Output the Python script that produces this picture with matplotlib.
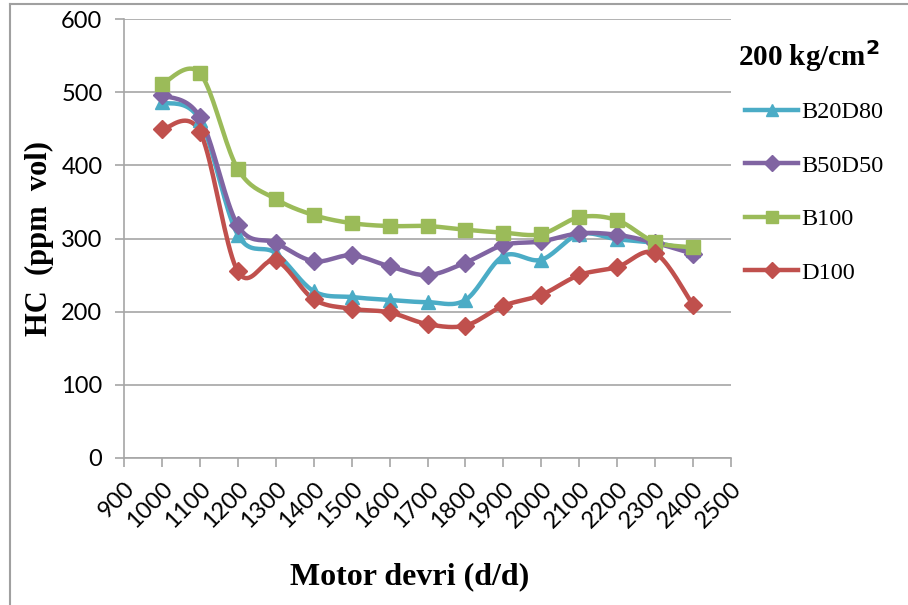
import matplotlib.pyplot as plt
from matplotlib.lines import Line2D
import numpy as np

rpm = [1000, 1100, 1200, 1300, 1400, 1500, 1600, 1700, 1800, 1900, 2000, 2100, 2200, 2300, 2400]

b20d80 = [486, 462, 305, 280, 228, 220, 216, 213, 216, 276, 271, 306, 299, 294, 284]
b50d50 = [496, 466, 318, 294, 269, 277, 262, 250, 267, 291, 296, 307, 305, 294, 279]
b100 = [511, 526, 395, 354, 332, 321, 317, 317, 312, 308, 306, 329, 325, 295, 288]
d100 = [449, 446, 255, 270, 217, 204, 199, 183, 181, 208, 223, 250, 261, 280, 209]

names = ['B20D80', 'B50D50', 'B100', 'D100']
colors = ['#4BACC6', '#8064A2', '#9BBB59', '#C0504D']
markers = ['^', 'D', 's', 'D']
msizes = [10, 9, 10, 9]


def smooth(x, y, n=20):
    # catmull-rom curve through the points, like excel's smoothed lines
    x = np.asarray(x, float)
    y = np.asarray(y, float)
    px = np.r_[x[0], x, x[-1]]
    py = np.r_[y[0], y, y[-1]]
    xs, ys = [], []
    t = np.linspace(0, 1, n, endpoint=False)
    for i in range(1, len(px) - 2):
        for p, out in ((px, xs), (py, ys)):
            p0, p1, p2, p3 = p[i - 1], p[i], p[i + 1], p[i + 2]
            out.extend(0.5 * (2 * p1 + (-p0 + p2) * t
                              + (2 * p0 - 5 * p1 + 4 * p2 - p3) * t ** 2
                              + (-p0 + 3 * p1 - 3 * p2 + p3) * t ** 3))
    xs.append(x[-1])
    ys.append(y[-1])
    return xs, ys


fig = plt.figure(figsize=(9.08, 6.05), dpi=100)
ax = fig.add_axes([124 / 908, 147 / 605, 607 / 908, 439 / 605])

grid_c = '#A6A6A6'
for i, series in enumerate([b20d80, b50d50, b100, d100]):
    sx, sy = smooth(rpm, series)
    ax.plot(sx, sy, color=colors[i], lw=3.2, solid_capstyle='round', zorder=3)
    ax.plot(rpm, series, ls='none', marker=markers[i], ms=msizes[i],
            color=colors[i], zorder=4)

ax.set_xlim(900, 2500)
ax.set_ylim(0, 600)
ax.set_xticks(range(900, 2501, 100))
ax.set_yticks(range(0, 601, 100))
ax.grid(axis='y', color=grid_c, lw=1.2)
ax.set_axisbelow(True)
for s in ['top', 'right']:
    ax.spines[s].set_visible(False)
for s in ['left', 'bottom']:
    ax.spines[s].set_color(grid_c)
    ax.spines[s].set_linewidth(1.2)
ax.tick_params(colors=grid_c, length=6.5, width=1.2, labelcolor='black',
               labelsize=17)
for lab in ax.get_xticklabels() + ax.get_yticklabels():
    lab.set_family('Lato')
plt.setp(ax.get_xticklabels(), rotation=45, ha='right', rotation_mode='anchor')
ax.tick_params(axis='y', pad=9)
ax.tick_params(axis='x', pad=8)

ax.set_xlabel('Motor devri (d/d)', family='Liberation Serif', weight='bold',
              fontsize=23)
ax.xaxis.set_label_coords(0.471, -0.237)
ax.set_ylabel('HC  (ppm  vol)', family='Liberation Serif', weight='bold',
              fontsize=22, labelpad=5)

fig.text(738 / 908, 1 - 56 / 605, '200 kg/cm$^\\mathbf{2}$', va='center',
         family='Liberation Serif', weight='bold', fontsize=21)

handles = [Line2D([], [], color=colors[i], lw=3.2, marker=markers[i],
                  ms=msizes[i] - 1) for i in range(4)]
fig.legend(handles, names, loc='upper left',
           bbox_to_anchor=(745 / 908, 1 - 101 / 605),
           frameon=False, prop={'family': 'Liberation Serif', 'size': 17.5},
           handlelength=2.2, labelspacing=1.3, handletextpad=0.1,
           borderpad=0, borderaxespad=0)

# chart frame: left and top edges
fig.add_artist(Line2D([10 / 908, 10 / 908], [0, 1 - 4 / 605], color='#A0A0A0',
                      lw=1.5, transform=fig.transFigure))
fig.add_artist(Line2D([10 / 908, 1], [1 - 4 / 605, 1 - 4 / 605], color='#A0A0A0',
                      lw=1.5, transform=fig.transFigure))

fig.savefig('out.png', dpi=100)
